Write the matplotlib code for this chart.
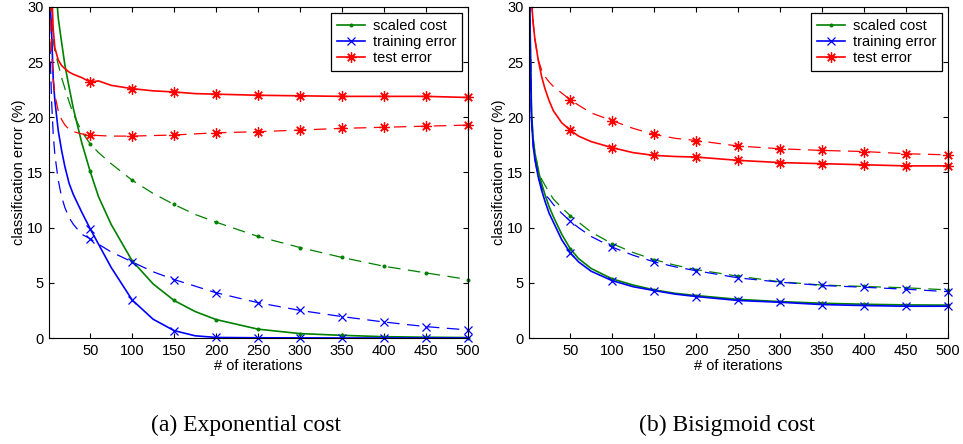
import numpy as np
import matplotlib.pyplot as plt
from matplotlib.lines import Line2D

plt.rcParams['font.family'] = ['Liberation Sans', 'DejaVu Sans']

iters = [1, 2, 4, 6, 8, 12, 16, 20, 25, 30, 40, 50, 60, 75, 100, 125, 150,
         175, 200, 250, 300, 350, 400, 450, 500]

# (a) exponential cost: solid and dashed runs
exp_cost_solid = [60, 55, 44, 38, 33, 29, 26.8, 24.7, 22.7, 20.8, 17.7, 15.1, 12.8,
                  10.3, 7.0, 4.9, 3.4, 2.4, 1.67, 0.8, 0.4, 0.24, 0.12, 0.07, 0.04]
exp_cost_dash = [40, 34, 29, 27, 26, 24.8, 23.6, 22.6, 21.4, 20.3, 18.7, 17.6, 16.8,
                 15.8, 14.3, 13.1, 12.1, 11.2, 10.5, 9.2, 8.2, 7.3, 6.5, 5.9, 5.3]
exp_train_solid = [40, 31, 28, 23.5, 21.5, 18.8, 17.0, 15.5, 14.0, 13.0, 11.4, 9.9, 8.5,
                   6.4, 3.45, 1.7, 0.67, 0.2, 0.05, 0.02, 0.01, 0, 0, 0, 0]
exp_train_dash = [30.5, 27, 21.6, 18.5, 16.6, 14.3, 12.8, 11.8, 10.9, 10.3, 9.4, 9.0, 8.5,
                  7.8, 6.9, 6.0, 5.3, 4.7, 4.1, 3.2, 2.5, 1.94, 1.45, 1.03, 0.73]
exp_test_solid = [45, 40, 32, 28, 26.3, 25.2, 24.7, 24.4, 24.1, 23.9, 23.6, 23.2, 23.3,
                  22.9, 22.6, 22.4, 22.3, 22.15, 22.1, 22.0, 21.95, 21.9, 21.9, 21.9, 21.8]
exp_test_dash = [40, 33, 26, 23.5, 22, 20.6, 19.8, 19.3, 18.9, 18.7, 18.5, 18.4, 18.35,
                 18.3, 18.3, 18.35, 18.4, 18.5, 18.6, 18.7, 18.85, 19.0, 19.1, 19.2, 19.3]

# (b) bisigmoid cost: solid and dashed runs
bis_cost_solid = [45, 30, 20.5, 18, 16.8, 15.2, 14.0, 13.0, 11.9, 11.0, 9.4, 8.1, 7.2,
                  6.3, 5.36, 4.8, 4.36, 4.05, 3.85, 3.5, 3.3, 3.15, 3.06, 3.0, 2.98]
bis_cost_dash = [45, 30, 20.5, 18, 16.8, 15.3, 14.4, 13.85, 13.2, 12.6, 11.8, 11.1, 10.5,
                 9.6, 8.55, 7.75, 7.1, 6.6, 6.2, 5.6, 5.1, 4.8, 4.67, 4.55, 4.36]
bis_train_solid = [42, 28, 19.8, 17.4, 16.2, 14.6, 13.4, 12.4, 11.3, 10.5, 8.9, 7.73, 6.9,
                   6.05, 5.2, 4.65, 4.3, 3.98, 3.76, 3.4, 3.24, 3.03, 2.94, 2.88, 2.88]
bis_train_dash = [42, 28, 19.8, 17.4, 16.2, 14.6, 13.6, 13.0, 12.6, 12.1, 11.3, 10.6, 10.0,
                  9.2, 8.24, 7.5, 6.9, 6.45, 6.1, 5.45, 5.06, 4.76, 4.6, 4.42, 4.2]
bis_test_solid = [45, 38, 30.5, 28.5, 27.1, 25.2, 23.7, 22.6, 21.5, 20.6, 19.5, 18.85, 18.3,
                  17.8, 17.25, 16.8, 16.55, 16.45, 16.4, 16.1, 15.9, 15.8, 15.7, 15.6, 15.6]
bis_test_dash = [45, 38, 30.5, 28.5, 27.1, 25.2, 24.3, 23.7, 23.2, 22.8, 22.2, 21.6, 21.1,
                 20.4, 19.7, 19.0, 18.45, 18.1, 17.9, 17.4, 17.15, 17.0, 16.9, 16.7, 16.6]

labels = ['scaled cost', 'training error', 'test error']
colors = ['#008000', '#0000ff', '#ff0000']
markers = ['.', 'x', (8, 2, 0)]
msizes = [4, 6, 7.5]

x = np.array(iters)
mark_idx = [i for i, v in enumerate(iters) if v % 50 == 0]


def draw_panel(ax, solid, dashed, caption, cx):
    for k in range(3):
        # dashed run (thin), then solid run on top
        ax.plot(x, dashed[k], color=colors[k], lw=0.9, ls=(0, (10, 6)))
        ax.plot(x[mark_idx], np.array(dashed[k])[mark_idx], ls='none',
                marker=markers[k], ms=msizes[k], color=colors[k], mew=0.9,
                clip_on=False)
        ax.plot(x, solid[k], color=colors[k], lw=1.2)
        ax.plot(x[mark_idx], np.array(solid[k])[mark_idx], ls='none',
                marker=markers[k], ms=msizes[k], color=colors[k], mew=0.9,
                clip_on=False)

    ax.set_xlim(1, 500)
    ax.set_ylim(0, 30)
    ax.set_xticks(np.arange(50, 501, 50))
    ax.set_yticks(np.arange(0, 31, 5))
    ax.tick_params(direction='in', top=True, right=True, length=3.5,
                   width=0.8, labelsize=10.5, pad=4)
    for s in ax.spines.values():
        s.set_linewidth(0.8)
    ax.set_xlabel('# of iterations', fontsize=10.5, labelpad=1)
    ax.set_ylabel('classification error (%)', fontsize=10.5, labelpad=1)

    handles = [Line2D([], [], color=colors[k], lw=1.2, marker=markers[k],
                      ms=msizes[k], mew=0.9) for k in range(3)]
    leg = ax.legend(handles, labels, loc='upper right', fontsize=10.5,
                    fancybox=False, framealpha=1, edgecolor='black',
                    borderaxespad=0.4, handlelength=1.9, handletextpad=0.55,
                    labelspacing=0.15, borderpad=0.4)
    leg.get_frame().set_linewidth(0.9)

    fig.text(cx, 1 - 425 / 444, caption, ha='center', va='center',
             family=['Liberation Serif', 'DejaVu Serif'], fontsize=17)


fig = plt.figure(figsize=(9.63, 4.44), dpi=100)

ax1 = fig.add_axes([49 / 963, 106 / 444, 419 / 963, 331 / 444])
draw_panel(ax1,
           [exp_cost_solid, exp_train_solid, exp_test_solid],
           [exp_cost_dash, exp_train_dash, exp_test_dash],
           '(a) Exponential cost', 246 / 963)

ax2 = fig.add_axes([529 / 963, 106 / 444, 419 / 963, 331 / 444])
draw_panel(ax2,
           [bis_cost_solid, bis_train_solid, bis_test_solid],
           [bis_cost_dash, bis_train_dash, bis_test_dash],
           '(b) Bisigmoid cost', 727 / 963)

fig.savefig('out.png', dpi=100)
